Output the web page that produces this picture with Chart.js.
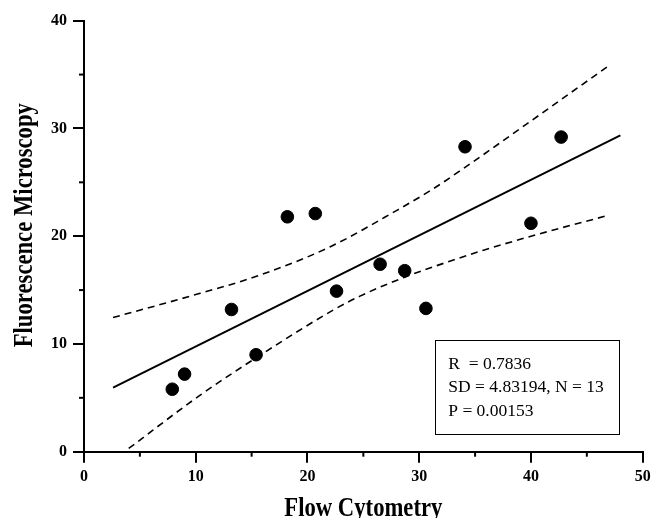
<!DOCTYPE html>
<html>
<head>
<meta charset="utf-8">
<script src="https://cdn.jsdelivr.net/npm/chart.js@4/dist/chart.umd.min.js"></script>
<style>
  html,body{margin:0;padding:0;background:#fff;}
  #wrap{width:651px;height:518px;position:relative;}
</style>
</head>
<body>
<div id="wrap"><canvas id="chart"></canvas></div>
<script>
// measured points
const flowCyto  = [7.9, 9.0, 13.2, 15.4, 18.2, 20.7, 22.6, 26.5, 28.7, 30.6, 34.1, 40.0, 42.7];
const fluoMicro = [5.8, 7.2, 13.2, 9.0, 21.8, 22.1, 14.9, 17.4, 16.8, 13.3, 28.3, 21.2, 29.2];

// regression line + 95% band
const fitX = [2.6, 48.0];
const fitY = [5.94, 29.36];
const upperX = [2.6, 10.4, 15.5, 22.0, 28.0, 31.1, 33.7, 39.6, 46.8];
const upperY = [12.45, 14.7, 16.3, 19.0, 22.4, 24.3, 26.1, 30.4, 35.7];
const lowerX = [4.0, 10.4, 16.95, 22.3, 24.7, 28.7, 32.8, 35.75, 41.4, 46.8];
const lowerY = [0.3, 5.25, 9.74, 13.14, 14.44, 16.2, 17.7, 18.7, 20.4, 21.9];

const xTicks = [0, 10, 20, 30, 40, 50];
const yTicks = [0, 10, 20, 30, 40];
const xMinor = [5, 15, 25, 35, 45];
const yMinor = [5, 15, 25, 35];

const statLines = ['R  = 0.7836', 'SD = 4.83194, N = 13', 'P = 0.00153'];
const xTitle = 'Flow Cytometry';
const yTitle = 'Fluorescence Microscopy';

// stats box placement in data units
const statBox = { x0: 31.4, x1: 47.86, y0: 1.61, y1: 10.37, textX: 32.6, lineY: [8.14, 5.94, 3.71] };

const pts = (xs, ys) => xs.map((v, i) => ({ x: v, y: ys[i] }));
const SERIF = '"Liberation Serif", "Times New Roman", serif';

const extras = {
  id: 'extras',
  afterDraw(chart){
    const { ctx, chartArea: ca, scales: { x, y } } = chart;
    ctx.save();
    ctx.strokeStyle = '#000'; ctx.fillStyle = '#000'; ctx.lineWidth = 2;
    // minor ticks
    xMinor.forEach(v => {
      const px = x.getPixelForValue(v);
      ctx.beginPath(); ctx.moveTo(px, ca.bottom); ctx.lineTo(px, ca.bottom + 5); ctx.stroke();
    });
    yMinor.forEach(v => {
      const py = y.getPixelForValue(v);
      ctx.beginPath(); ctx.moveTo(ca.left, py); ctx.lineTo(ca.left - 5, py); ctx.stroke();
    });
    // stats box
    const bx0 = Math.round(x.getPixelForValue(statBox.x0)) + 0.5, bx1 = Math.round(x.getPixelForValue(statBox.x1)) + 0.5;
    const by0 = Math.round(y.getPixelForValue(statBox.y1)) + 0.5, by1 = Math.round(y.getPixelForValue(statBox.y0)) + 0.5;
    ctx.lineWidth = 1;
    ctx.strokeRect(bx0, by0, bx1 - bx0, by1 - by0);
    ctx.font = '17.5px ' + SERIF;
    ctx.textBaseline = 'middle'; ctx.textAlign = 'left';
    statLines.forEach((t, i) => ctx.fillText(t, x.getPixelForValue(statBox.textX), y.getPixelForValue(statBox.lineY[i])));
    // axis titles (narrowed bold serif like the original)
    ctx.font = 'bold 28px ' + SERIF;
    ctx.textAlign = 'center'; ctx.textBaseline = 'alphabetic';
    ctx.save();
    ctx.translate((ca.left + ca.right) / 2, 516);
    ctx.scale(0.81, 1);
    ctx.fillText(xTitle, 0, 0);
    ctx.restore();
    ctx.save();
    ctx.translate(31.5, (ca.top + ca.bottom) / 2 - 11);
    ctx.rotate(-Math.PI / 2);
    ctx.scale(0.81, 1);
    ctx.fillText(yTitle, 0, 0);
    ctx.restore();
    ctx.restore();
  }
};

const tickFont = { family: SERIF, size: 16, weight: 'bold' };

new Chart(document.getElementById('chart'), {
  type: 'scatter',
  data: {
    datasets: [
      { data: pts(flowCyto, fluoMicro), backgroundColor: '#000', borderColor: '#000', pointRadius: 6.3, pointHoverRadius: 6.3, order: 0 },
      { data: pts(fitX, fitY), showLine: true, borderColor: '#000', borderWidth: 2, pointRadius: 0, order: 1 },
      { data: pts(upperX, upperY), showLine: true, borderColor: '#000', borderWidth: 1.6, borderDash: [7, 5],
        cubicInterpolationMode: 'monotone', tension: 0.4, pointRadius: 0, order: 2 },
      { data: pts(lowerX, lowerY), showLine: true, borderColor: '#000', borderWidth: 1.6, borderDash: [7, 5],
        cubicInterpolationMode: 'monotone', tension: 0.4, pointRadius: 0, order: 3 }
    ]
  },
  options: {
    responsive: true, maintainAspectRatio: false, animation: false,
    layout: { padding: { top: 20.7, right: 0, left: 0, bottom: 0 } },
    plugins: { legend: { display: false }, tooltip: { enabled: false } },
    scales: {
      x: {
        type: 'linear', min: 0, max: 50,
        afterBuildTicks: s => { s.ticks = xTicks.map(v => ({ value: v })); },
        afterFit: s => { s.height = 66.3; s.paddingRight = 8.3; },
        ticks: { font: tickFont, color: '#000', padding: 5, maxRotation: 0 },
        grid: { drawOnChartArea: false, tickLength: 11, color: '#000', lineWidth: 2 },
        border: { color: '#000', width: 2 }
      },
      y: {
        type: 'linear', min: 0, max: 40,
        afterBuildTicks: s => { s.ticks = yTicks.map(v => ({ value: v })); },
        afterFit: s => { s.width = 84; },
        ticks: { font: tickFont, color: '#000', padding: 6 },
        grid: { drawOnChartArea: false, tickLength: 11, color: '#000', lineWidth: 2 },
        border: { color: '#000', width: 2 }
      }
    }
  },
  plugins: [extras]
});
</script>
</body>
</html>
